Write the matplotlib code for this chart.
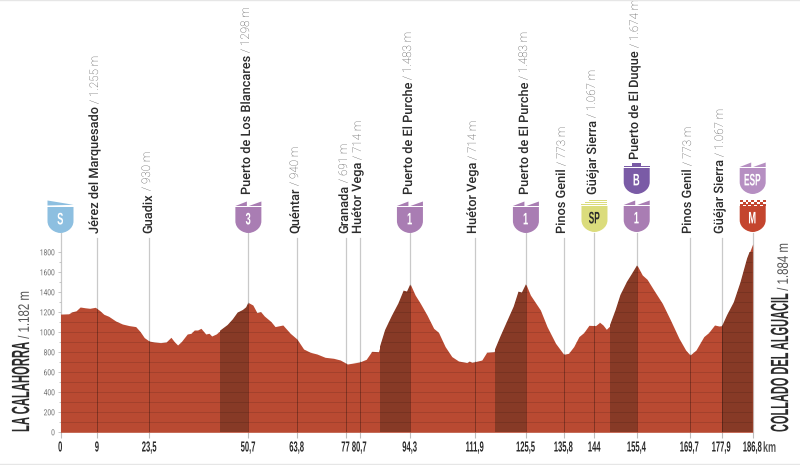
#!/usr/bin/env python
"""stage profile: La Calahorra to Collado del Alguacil"""
import numpy as np
from matplotlib import pyplot as plt
from matplotlib.patches import PathPatch, Polygon, Rectangle
from matplotlib.path import Path
from matplotlib.patheffects import AbstractPathEffect
from matplotlib.transforms import Affine2D

plt.rcParams['text.hinting'] = 'no_hinting'

# profile
profile_km = [0, 2.2, 3.1, 4.2, 5.3, 6.7, 7.9, 9.4, 10.6, 11.7, 13, 14.9, 16.7, 18.5, 20.3, 21.5,
              22.6, 23.9, 25.3, 27, 28.5, 29.8, 30.7, 31.6, 32.6, 34.2, 35.2, 36.1, 37, 37.9, 39.2,
              40.1, 40.8, 42, 43.3, 45.1, 46.5, 47.8, 49.2, 50.1, 50.7, 51.9, 53, 54, 55, 56.8,
              57.9, 60, 62, 63.8, 65.6, 67.4, 69.2, 71.4, 73.7, 75.5, 77.4, 78.6, 80.7, 82.5, 84,
              85.8, 87.6, 89.4, 91.2, 92.6, 93.5, 94.4, 95.7, 97.1, 98.9, 100.7, 102, 103.8, 105.6,
              107.4, 109.7, 110.3, 111, 111.9, 113.7, 115, 117, 118.7, 120.5, 122.3, 123.6, 124.5,
              125.6, 126.8, 129.5, 131.3, 133.6, 135.8, 137.1, 138.5, 139.9, 141.2, 142.6, 144.4,
              145.5, 146.4, 147.3, 148.2, 149.8, 151.1, 152.9, 154.3, 155.6, 157, 158.3, 160.1,
              162.4, 164.6, 166.9, 168.7, 169.9, 171.5, 173.6, 174.9, 176.5, 177.7, 178.6, 179.9,
              181.7, 183.5, 185.3, 186.8]
profile_m = [1182, 1185, 1205, 1215, 1253, 1245, 1240, 1250, 1217, 1180, 1160, 1113, 1083, 1067, 1057, 1007,
             947, 913, 903, 897, 903, 950, 907, 873, 907, 983, 990, 1023, 1023, 1040, 983,
             990, 963, 983, 1023, 1073, 1130, 1197, 1223, 1250, 1297, 1273, 1197, 1207, 1163, 1107,
             1057, 1073, 990, 933, 833, 800, 783, 750, 740, 723, 683, 690, 703, 730, 810,
             806, 1023, 1163, 1290, 1417, 1407, 1480, 1373, 1290, 1173, 1040, 1000, 857, 757,
             713, 697, 713, 700, 707, 723, 800, 806, 957, 1107, 1257, 1407, 1397,
             1480, 1373, 1223, 1057, 890, 780, 790, 857, 957, 997, 1070, 1067,
             1100, 1073, 1030, 1063, 1223, 1373, 1507, 1590, 1670, 1573, 1530, 1423,
             1290, 1123, 940, 823, 773, 823, 957, 997, 1073, 1063, 1067, 1173,
             1300, 1500, 1740, 1884]

tick_pos = [0, 9.9, 24, 50.7, 63.8, 77, 80.7, 94.3, 111.9, 125.6, 135.8, 144.1, 155.5, 169.8, 178.4, 186.8]
tick_labels = ['0', '9', '23,5', '50,7', '63,8', '77', '80,7', '94,3', '111,9', '125,5',
               '135,8', '144', '155,4', '169,7', '177,9', '186,8']

climbs = [(43.1, 50.7), (86.3, 94.3), (117.3, 125.6), (148.2, 155.5), (178.6, 186.8)]

# name, height, position along the stage, pixel row where the text starts
place_names = ['Jérez del Marquesado', 'Guadix', 'Puerto de Los Blancares', 'Quéntar', 'Granada',
               'Huétor Vega', 'Puerto de El Purche', 'Huétor Vega', 'Puerto de El Purche',
               'Pinos Genil', 'Güéjar Sierra', 'Puerto de El Duque', 'Pinos Genil', 'Güéjar Sierra']
place_heights = ['1.255 m', '930 m', '1298 m', '940 m', '691 m', '714 m', '1.483 m', '714 m', '1.483 m',
                 '773 m', '1.067 m', '1.674 m', '773 m', '1.067 m']
place_km = [9.9, 24, 50.7, 63.8, 77, 80.7, 94.3, 111.9, 125.6, 135.8, 144.1, 155.5, 169.8, 178.4]
place_rows = [233, 233, 194, 233, 233, 233, 194, 233, 194, 233, 194, 159, 233, 233]

RED = '#b94a32'
DARK = '#873a26'
INK = '#2b2b2b'
GREY = '#6e6e6e'
SANS = 'Liberation Sans'


class Squeeze(AbstractPathEffect):
    'narrow a text along its reading direction, anchor 0 start, 0.5 middle, 1 end'

    def __init__(self, sx, anchor=0):
        super().__init__()
        self.sx = sx
        self.anchor = anchor

    def draw_path(self, renderer, gc, tpath, affine, rgbFace=None):
        shift = self.anchor * (1 - self.sx) * tpath.get_extents().width
        squeeze = Affine2D().scale(self.sx, 1).translate(shift, 0)
        renderer.draw_path(gc, tpath, squeeze + affine, rgbFace)


def put_text(x, y, s, sx=1.0, **kw):
    'text placed by picture pixels'
    t = fig.text(x / 800, 1 - y / 465, s, family=SANS, **kw)
    t.set_path_effects([Squeeze(sx)])
    return t


def shield(km, bottom, colour, letter, top, ink='white', letter_size=12):
    'category badge, drawn in pixels around the stage position'
    x = ax.transData.transform((km, 0))[0]
    place = Affine2D().scale(1, -1).translate(x, 465 - (bottom - 26))
    verts = [(-13, 0), (13, 0), (13, 14), (13, 22), (5, 26), (0, 26), (-5, 26), (-13, 22), (-13, 14), (-13, 0)]
    codes = [Path.MOVETO, Path.LINETO, Path.LINETO, Path.CURVE4, Path.CURVE4, Path.CURVE4,
             Path.CURVE4, Path.CURVE4, Path.CURVE4, Path.CLOSEPOLY]
    fig.add_artist(PathPatch(Path(verts, codes), fc=colour, ec='none', transform=place))
    for piece in top:
        fig.add_artist(Polygon(piece, closed=True, fc=colour, ec='none', transform=place))
    t = fig.text(x / 800, 1 - (bottom - 13) / 465, letter, color=ink, family=SANS, weight='bold',
                 size=letter_size, ha='center', va='center')
    t.set_path_effects([Squeeze(0.5 if len(letter) > 1 else 0.56, 0.5)])


def box(x0, y0, x1, y1):
    return [(x0, y0), (x1, y0), (x1, y1), (x0, y1)]


flags = [[(-13, -1), (-1.5, -5.5), (-1.5, -1)], [(0.5, -1), (13, -5.5), (13, -1)]]
wedge = [[(-13, -6.5), (13, -2.2), (-13, -1.5)]]
steps = [box(-13, -2, 13, -1), box(-9, -4, 13, -3), box(-5, -6, 13, -5)]
castle = [box(-13, -2.5, 13, -0.7), box(-4.5, -5, 4.5, -2.5)]
checks = [box(-13 + i * 2.9, -6.5 + (i % 2) * 2.6, -10.1 + i * 2.9, -3.9 + (i % 2) * 2.6) for i in range(9)]
checks += [box(-13 + i * 2.9, -1.7, -10.1 + i * 2.9, -0.5) for i in range(0, 9, 2)]

fig = plt.figure(figsize=(8, 4.65), dpi=100, facecolor='white')
ax = fig.add_axes([60.5 / 800, (465 - 432.3) / 465, 692.2 / 800, 180 / 465])
ax.set_xlim(0, 186.8)
ax.set_ylim(0, 1800)
ax.patch.set_visible(False)
for spine in ax.spines.values():
    spine.set_visible(False)

# guide lines go up behind the profile, and show again darker on top of it
guide_top = {km: (1990 if row == 194 or row == 159 else 1943) for km, row in zip(place_km, place_rows)}
for km, top in guide_top.items():
    ax.plot([km, km], [0, top], color='#c9c9c9', lw=0.9, zorder=1, clip_on=False)
for km in (0, 186.8):
    ax.plot([km, km], [0, 1990], color='#c9c9c9', lw=0.9, zorder=1, clip_on=False)

area = ax.fill_between(profile_km, 0, profile_m, color=RED, lw=0, zorder=2, clip_on=False)
outline = area.get_paths()[0]
clip_to_profile = lambda artist: artist.set_clip_path(outline, ax.transData)

for start, end in climbs:
    band = ax.add_patch(Rectangle((start, 0), end - start, 1900, fc=DARK, ec='none', zorder=3))
    clip_to_profile(band)
rules = ax.hlines(np.arange(100, 1900, 100), 0, 186.8, color='black', lw=0.6, alpha=0.14, zorder=4)
clip_to_profile(rules)
guides = ax.vlines(place_km, 0, 1900, color='black', lw=0.7, alpha=0.3, zorder=4)
clip_to_profile(guides)

ax.set_xticks(tick_pos, tick_labels)
ax.tick_params(axis='x', length=4.5, width=0.8, color='#bdbdbd', pad=1.5, labelsize=10.5, labelcolor=INK)
for label in ax.get_xticklabels():
    label.set_family(SANS)
    label.set_weight('bold')
    label.set_path_effects([Squeeze(0.52, 0.5)])

ax.set_yticks(np.arange(0, 2000, 200))
ax.set_yticks(np.arange(100, 1900, 200), minor=True)
ax.tick_params(axis='y', length=2.4, width=0.6, color='#bdbdbd', pad=1.5, labelsize=6, labelcolor=GREY)
ax.tick_params(axis='y', which='minor', length=1.6, width=0.6, color='#bdbdbd')
for label in ax.get_yticklabels():
    label.set_family('Roboto')
    label.set_path_effects([Squeeze(0.8, 1)])

put_text(763, 448, 'km', sx=0.62, size=10.5, color='#555555', weight='bold', va='center', ha='left')

# place names along the top
for name, height, km, row in zip(place_names, place_heights, place_km, place_rows):
    x = ax.transData.transform((km, 0))[0] - 1
    bold = fig.text(x / 800, 1 - row / 465, name, rotation=90, ha='center', va='bottom',
                    family='Roboto', weight='medium', size=9.2, color=INK)
    ax.annotate(' / ' + height, xy=(0.5, 1), xycoords=bold, rotation=90, ha='center', va='bottom',
                family='Roboto', weight='light', size=8.4, color='#454545', annotation_clip=False)

# start and finish names
put_text(11, 432, 'LA CALAHORRA', sx=0.45, rotation=90, ha='left', va='bottom', size=18, weight='bold', color=INK)
put_text(18, 342, ' / 1.182 m', sx=0.75, rotation=90, ha='left', va='bottom', size=11, color='#555555')
put_text(770, 432, 'COLLADO DEL ALGUACIL', sx=0.44, rotation=90, ha='left', va='bottom', size=18, weight='bold', color=INK)
put_text(777, 294, ' / 1.884 m', sx=0.75, rotation=90, ha='left', va='bottom', size=11, color='#555555')

# badges
fig.canvas.draw()
shield(0, 233, '#8dbfe0', 'S', wedge)
shield(50.7, 233, '#a97db3', '3', flags)
shield(94.3, 233, '#a97db3', '1', flags)
shield(125.6, 233, '#a97db3', '1', flags)
shield(144.1, 232, '#dbdc7c', 'SP', steps, ink=INK)
shield(155.5, 232, '#a97db3', '1', flags)
shield(155.5, 194, '#7a5ba6', 'B', castle)
shield(186.8, 194, '#b68fc2', 'ESP', flags)
shield(186.8, 232, '#c4452e', 'M', checks)

# faint frame lines at the picture edges
fig.add_artist(plt.Line2D([0, 1], [0.999, 0.999], color='#e6e6e6', lw=1))
fig.add_artist(plt.Line2D([0, 1], [0.002, 0.002], color='#e6e6e6', lw=1))

fig.savefig('out.png', dpi=100, facecolor='white')
